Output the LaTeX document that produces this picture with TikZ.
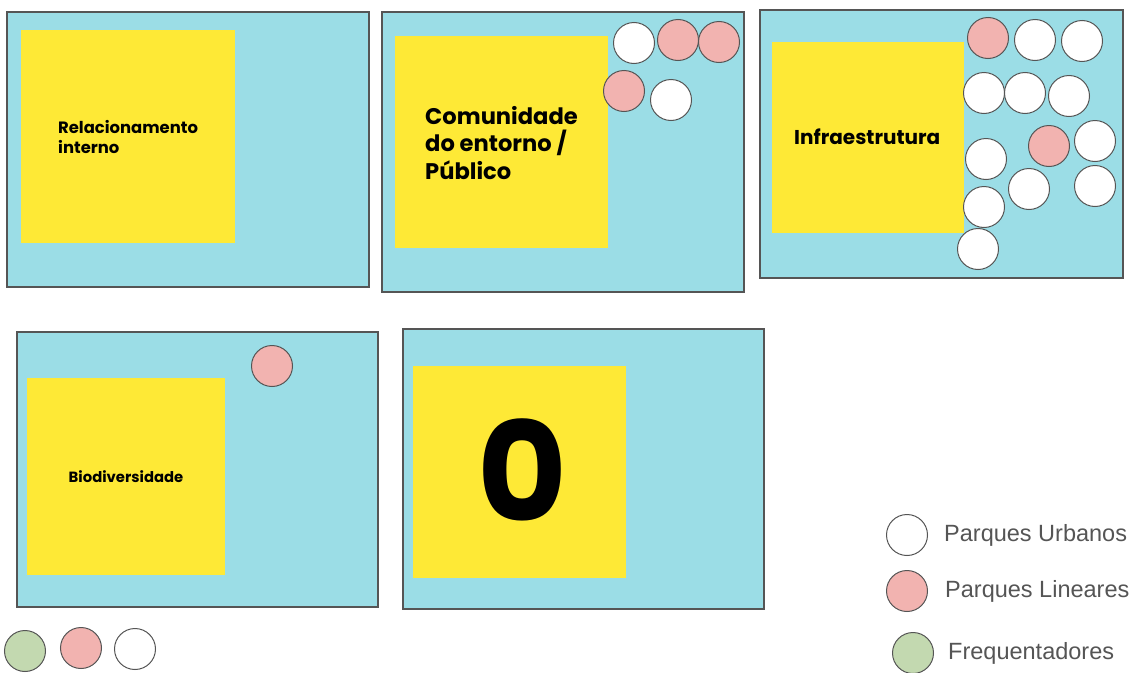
\documentclass[tikz,border=0pt]{standalone}
\usepackage{fontspec}
\setmainfont{Poppins}
\newfontfamily\legendfont{Liberation Sans}
\usetikzlibrary{positioning}
\definecolor{panelcyan}{RGB}{155,221,230}
\definecolor{cardyellow}{RGB}{254,233,54}
\definecolor{linpink}{RGB}{242,179,176}
\definecolor{freqgreen}{RGB}{195,217,176}
\definecolor{edgegray}{RGB}{85,85,85}
\definecolor{legendgray}{RGB}{85,85,85}

\begin{document}
\begin{tikzpicture}[x=1pt, y=-1pt,
    panel/.style={draw=edgegray, line width=1.4pt, fill=panelcyan},
    card/.style={fill=cardyellow},
    spot/.style={circle, draw=edgegray, line width=1pt, inner sep=0pt, minimum size=41pt},
    urb/.style={spot, fill=white},
    lin/.style={spot, fill=linpink},
    freq/.style={spot, fill=freqgreen},
    lbl/.style={anchor=west, align=left, font=\bfseries, inner sep=0pt},
    leg/.style={anchor=west, inner sep=0pt, text=legendgray, font=\legendfont\fontsize{23.5}{27}\selectfont}
  ]
  \useasboundingbox (0,0) rectangle (1142,672);

  % top row
  \draw[panel] (7,12) rectangle (369,287);
  \fill[card] (21,30) rectangle (235,243);
  \node[lbl, font=\bfseries\fontsize{16.4}{19.5}\selectfont] (rel) at (58,137) {Relacionamento\\interno};

  \draw[panel] (382,12) rectangle (744,292);
  \fill[card] (395,36) rectangle (608,248);
  \node[lbl, font=\bfseries\fontsize{22.6}{27.5}\selectfont] (com) at (425,143) {Comunidade\\do entorno /\\Público};
  \node[urb] (c1) at (634,43) {};
  \node[lin] (c2) at (678,40) {};
  \node[lin] (c3) at (719,42) {};
  \node[lin] (c4) at (624,91) {};
  \node[urb] (c5) at (671,100) {};

  \draw[panel] (760,10) rectangle (1123,278);
  \fill[card] (772,42) rectangle (964,233);
  \node[lbl, font=\bfseries\fontsize{20}{24}\selectfont] (inf) at (794,137) {Infraestrutura};
  \node[lin] (i1) at (988,38) {};
  \node[urb] (i2) at (1035,40) {};
  \node[urb] (i3) at (1082,41) {};
  \node[urb] (i4) at (984,93) {};
  \node[urb] (i5) at (1025,93) {};
  \node[urb] (i6) at (1069,96) {};
  \node[lin] (i7) at (1049,146) {};
  \node[urb] (i8) at (1095,141) {};
  \node[urb] (i9) at (986,159) {};
  \node[urb] (i10) at (1029,189) {};
  \node[urb] (i11) at (1095,186) {};
  \node[urb] (i12) at (984,207) {};
  \node[urb] (i13) at (978,249) {};

  % bottom row
  \draw[panel] (17,332) rectangle (378,607);
  \fill[card] (27,378) rectangle (225,575);
  \node[lbl, anchor=center, font=\bfseries\fontsize{14.8}{17}\selectfont] (bio) at (126,477) {Biodiversidade};
  \node[lin] (b1) at (272,366) {};

  \draw[panel] (403,329) rectangle (764,609);
  \fill[card] (413,366) rectangle (626,578);
  \node[lbl, anchor=center, font=\bfseries\fontsize{138}{138}\selectfont] (zero) at (522,470) {0};

  \node[freq] (f1) at (25,651) {};
  \node[lin] (f2) at (81,648) {};
  \node[urb] (f3) at (135,649) {};

  % legend
  \node[urb] (k1) at (907,535) {};
  \node[leg, right=16pt of k1] (t1) {Parques Urbanos};
  \node[lin] (k2) at (907,591) {};
  \node[leg, right=17pt of k2] (t2) {Parques Lineares};
  \node[freq] (k3) at (913,653) {};
  \node[leg, right=14pt of k3] (t3) {Frequentadores};
\end{tikzpicture}
\end{document}
